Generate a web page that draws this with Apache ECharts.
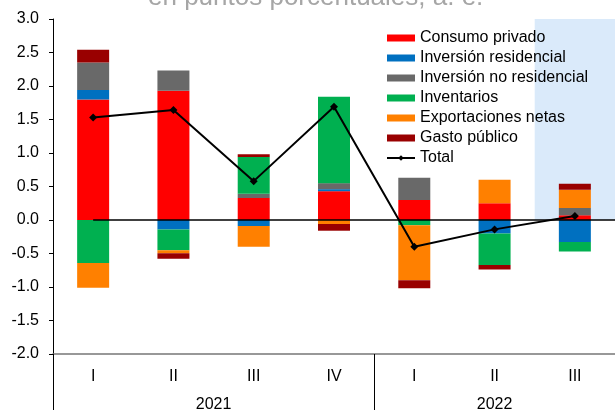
<!DOCTYPE html>
<html>
<head>
<meta charset="utf-8">
<script src="https://cdn.jsdelivr.net/npm/echarts@6/dist/echarts.min.js"></script>
<style>html,body{margin:0;padding:0;background:#fff;}#c{width:615px;height:413px;}</style>
</head>
<body>
<div id="c"></div>
<script>
// ---- data ----
var quarters = ['I', 'II', 'III', 'IV', 'I', 'II', 'III'];
var years = ['2021', '2022'];
var quartersPerYear = [4, 3];
var yTicks = [-2.0, -1.5, -1.0, -0.5, 0.0, 0.5, 1.0, 1.5, 2.0, 2.5, 3.0];
var seriesNames = ['Consumo privado', 'Inversión residencial', 'Inversión no residencial', 'Inventarios', 'Exportaciones netas', 'Gasto público', 'Total'];
var consumoPrivado = [1.80, 1.93, 0.33, 0.43, 0.30, 0.25, 0.07];
var inversionResidencial = [0.14, -0.14, -0.09, 0.03, 0.00, -0.20, -0.33];
var inversionNoResidencial = [0.41, 0.30, 0.06, 0.09, 0.33, 0.00, 0.11];
var inventarios = [-0.64, -0.31, 0.55, 1.29, -0.08, -0.47, -0.14];
var exportacionesNetas = [-0.37, -0.045, -0.31, -0.06, -0.82, 0.35, 0.27];
var gastoPublico = [0.19, -0.085, 0.04, -0.10, -0.12, -0.07, 0.09];
var total = [1.53, 1.64, 0.58, 1.69, -0.40, -0.14, 0.06];
var shadedQuarterIndex = 6; // last quarter shaded
var titleText = 'en puntos porcentuales, a. e.';

// ---- build ----
var FONT = '"Liberation Sans", Arial, sans-serif';
var colors = ['#FF0000', '#0070C0', '#696969', '#00B050', '#FF8000', '#990000'];
var barData = [consumoPrivado, inversionResidencial, inversionNoResidencial, inventarios, exportacionesNetas, gastoPublico];

// year group boundaries and centers on a 0..N value scale
var bounds = [0], centers = [], acc = 0;
quartersPerYear.forEach(function (n) { centers.push(acc + n / 2); acc += n; bounds.push(acc); });
var yearByCenter = {};
centers.forEach(function (c, i) { yearByCenter[c] = years[i]; });

var series = barData.map(function (d, i) {
  return {
    name: seriesNames[i], type: 'bar', stack: 'c', data: d,
    barWidth: 32, xAxisIndex: 0,
    itemStyle: { color: colors[i] }, z: 2
  };
});
series.push({
  name: 'Total', type: 'line', data: total, xAxisIndex: 0,
  symbol: 'diamond', symbolSize: 8,
  lineStyle: { color: '#000', width: 2 }, itemStyle: { color: '#000' }, z: 6
});
series.push({
  name: 'helper', type: 'line', xAxisIndex: 1, data: [], silent: true, z: 5,
  markArea: {
    silent: true,
    itemStyle: { color: '#DAEAFA' },
    data: [[{ coord: [shadedQuarterIndex, 0] }, { coord: [shadedQuarterIndex + 1, yTicks[yTicks.length - 1]] }]]
  },
  markLine: {
    silent: true, symbol: 'none', label: { show: false },
    lineStyle: { color: '#000', width: 1.5, type: 'solid' },
    data: [[{ coord: [0.5, 0] }, { coord: [quarters.length, 0] }]]
  }
});

var chart = echarts.init(document.getElementById('c'), null, { renderer: 'canvas' });
chart.setOption({
  animation: false,
  backgroundColor: '#fff',
  title: {
    text: titleText, left: 143, top: -20,
    textStyle: { fontFamily: FONT, fontSize: 26, fontWeight: 'normal', color: '#A6A6A6' }
  },
  legend: {
    orient: 'vertical', left: 386, top: 29, padding: 0,
    itemWidth: 28, itemHeight: 7, itemGap: 2,
    textStyle: { fontFamily: FONT, fontSize: 16, color: '#000', lineHeight: 18 },
    data: seriesNames.map(function (n, i) { return i < 6 ? { name: n, icon: 'rect' } : { name: n }; })
  },
  grid: { left: 53, right: 0, top: 19, bottom: 56, containLabel: false },
  xAxis: [{
    type: 'category', data: quarters, position: 'bottom',
    axisLine: { onZero: false, lineStyle: { color: '#777', width: 1.5 } },
    axisTick: { show: false },
    axisLabel: { margin: 15, fontFamily: FONT, fontSize: 16, color: '#000' }
  }, {
    type: 'value', min: 0, max: quarters.length, position: 'bottom',
    axisLine: { show: false, onZero: false },
    splitLine: { show: false },
    axisTick: { show: true, length: 56, customValues: bounds, lineStyle: { color: '#000', width: 1 } },
    axisLabel: {
      margin: 43, fontFamily: FONT, fontSize: 16, color: '#000', customValues: centers,
      formatter: function (v) { return yearByCenter[v] || ''; }
    }
  }],
  yAxis: {
    type: 'value', min: yTicks[0], max: yTicks[yTicks.length - 1], interval: 0.5,
    axisLine: { show: true, lineStyle: { color: '#000', width: 1 } },
    axisTick: { show: true, length: 4, lineStyle: { color: '#000' } },
    splitLine: { show: false },
    axisLabel: { margin: 14, fontFamily: FONT, fontSize: 16, color: '#000', formatter: function (v) { return v.toFixed(1); } }
  },
  series: series
});
</script>
</body>
</html>
